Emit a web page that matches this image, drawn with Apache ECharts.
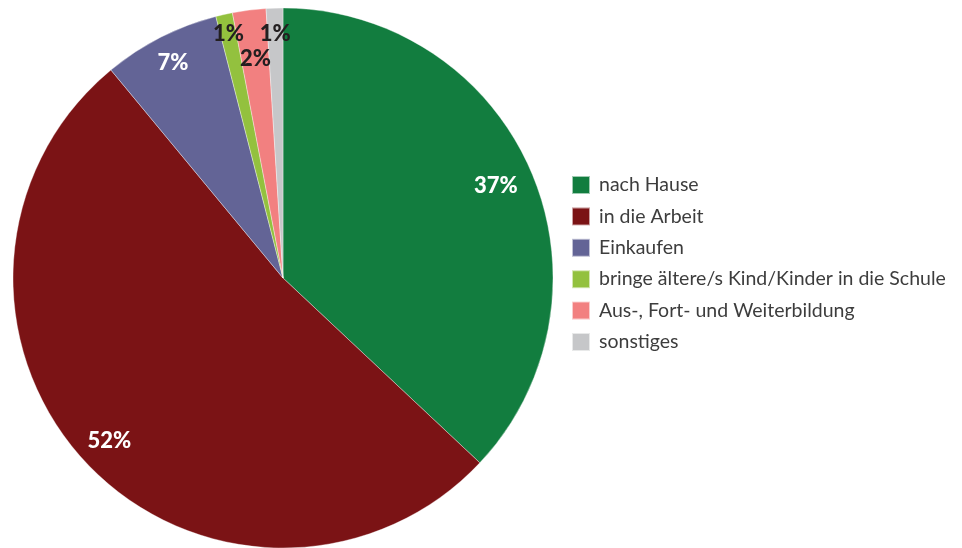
<!DOCTYPE html>
<html>
<head>
<meta charset="utf-8">
<script src="https://cdn.jsdelivr.net/npm/echarts@6/dist/echarts.min.js"></script>
<style>
  html, body { margin: 0; padding: 0; background: #fff; }
  #chart { width: 962px; height: 548px; }
</style>
</head>
<body>
<div id="chart"></div>
<script>
// Wegzwecke, Anteile in Prozent
const categories = [
  'nach Hause',
  'in die Arbeit',
  'Einkaufen',
  'bringe ältere/s Kind/Kinder in die Schule',
  'Aus-, Fort- und Weiterbildung',
  'sonstiges'
];
const shares = [37, 52, 7, 1, 2, 1];

const colors = ['#127d3f', '#7b1315', '#636496', '#93c13e', '#f28080', '#c6c7c9'];
const labelColors = ['#ffffff', '#ffffff', '#ffffff', '#231f20', '#231f20', '#231f20'];
// small radial nudges so the narrow-slice labels do not collide
const labelNudge = [-3, 3, 7, 15, -14, 9];

const font = 'Lato, "Noto Sans", sans-serif';
const cx = 283, cy = 278, R = 270;

const data = categories.map((name, i) => ({ name, value: shares[i] }));

const chart = echarts.init(document.getElementById('chart'), null, { renderer: 'canvas' });

chart.setOption({
  animation: false,
  color: colors,
  legend: {
    orient: 'vertical',
    left: 571,
    top: 175,
    padding: 0,
    itemWidth: 18,
    itemHeight: 18,
    itemGap: 11.4,
    icon: 'rect',
    data: categories,
    textStyle: {
      fontFamily: font,
      fontSize: 19.5,
      lineHeight: 18,
      color: '#3d3d3d',
      padding: [0, 0, 0, 4]
    }
  },
  series: [
    {
      type: 'pie',
      center: [cx, cy],
      radius: [0, R],
      startAngle: 90,
      clockwise: true,
      silent: true,
      label: { show: false },
      labelLine: { show: false },
      itemStyle: { borderColor: 'rgba(255,255,255,0.6)', borderWidth: 0.6 },
      data: data
    },
    {
      // transparent ring that carries the percentage labels
      type: 'pie',
      center: [cx, cy],
      radius: [194, R],
      startAngle: 90,
      clockwise: true,
      silent: true,
      legendHoverLink: false,
      itemStyle: { color: 'rgba(0,0,0,0)' },
      label: {
        show: true,
        position: 'inside',
        formatter: p => p.value + '%',
        fontFamily: font,
        fontWeight: 900,
        fontSize: 22,
        color: '#fff'
      },
      labelLine: { show: false },
      labelLayout: function (p) {
        const i = p.dataIndex;
        const r = p.rect;
        const x = r.x + r.width / 2 - cx;
        const y = r.y + r.height / 2 - cy;
        const d = Math.sqrt(x * x + y * y) || 1;
        return { dx: x / d * labelNudge[i], dy: y / d * labelNudge[i] };
      },
      data: data.map((d, i) => ({
        name: d.name,
        value: d.value,
        label: { color: labelColors[i] }
      }))
    }
  ]
});
</script>
</body>
</html>
